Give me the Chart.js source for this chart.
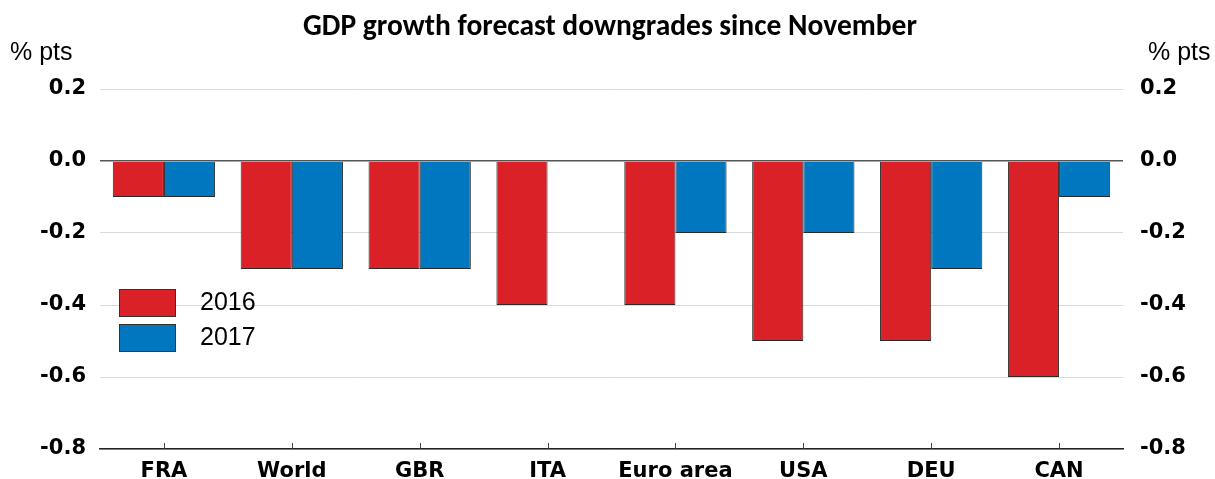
<!DOCTYPE html>
<html>
<head>
<meta charset="utf-8">
<script src="https://cdn.jsdelivr.net/npm/chart.js@4/dist/chart.umd.min.js"></script>
<style>
  html, body { margin: 0; padding: 0; background: #fff; }
  #wrap { width: 1215px; height: 479px; position: relative; }
</style>
</head>
<body>
<div id="wrap"><canvas id="myChart" width="1215" height="479"></canvas></div>
<script>
const categories = ['FRA', 'World', 'GBR', 'ITA', 'Euro area', 'USA', 'DEU', 'CAN'];
const growth2016 = [-0.1, -0.3, -0.3, -0.4, -0.4, -0.5, -0.5, -0.6];
const growth2017 = [-0.1, -0.3, -0.3, 0, -0.2, -0.2, -0.3, -0.1];
const seriesNames = ['2016', '2017'];
const yTicks = [0.2, 0.0, -0.2, -0.4, -0.6, -0.8];

const titleText = 'GDP growth forecast downgrades since November';
const unitText = '% pts';

const tickFont = { family: '"DejaVu Sans", sans-serif', size: 21, weight: 'bold' };

// title, unit labels, legend box, inside tick marks
const overlay = {
    id: 'overlay',
    afterDatasetsDraw(chart) {
        const ctx = chart.ctx;
        const area = chart.chartArea;
        const x = chart.scales.x;
        ctx.save();
        ctx.strokeStyle = '#444';
        ctx.lineWidth = 1;
        categories.forEach((c, i) => {
            const px = Math.round(x.getPixelForValue(i)) + 0.5;
            ctx.beginPath();
            ctx.moveTo(px, area.bottom);
            ctx.lineTo(px, area.bottom - 6);
            ctx.stroke();
        });
        ctx.restore();
    },
    afterDraw(chart) {
        const ctx = chart.ctx;
        ctx.save();
        ctx.fillStyle = '#000';
        ctx.textBaseline = 'alphabetic';
        ctx.textAlign = 'center';
        ctx.font = 'bold 29.5px Carlito, Lato, "Open Sans", sans-serif';
        ctx.fillText(titleText, 610, 35);

        ctx.textBaseline = 'middle';
        ctx.font = '25px "Liberation Sans", Arial, sans-serif';
        ctx.textAlign = 'left';
        ctx.fillText(unitText, 10, 53);
        ctx.fillText(unitText, 1148, 53);

        // legend
        const colors = chart.data.datasets.map(d => d.backgroundColor);
        seriesNames.forEach((name, i) => {
            const by = 289 + i * 35;
            ctx.fillStyle = colors[i];
            ctx.fillRect(119, by, 56, 27);
            ctx.strokeStyle = '#333';
            ctx.lineWidth = 1;
            ctx.strokeRect(119.5, by + 0.5, 56, 27);
            ctx.fillStyle = '#000';
            ctx.fillText(name, 200, by + 14);
        });
        ctx.restore();
    }
};

const ctx = document.getElementById('myChart').getContext('2d');
const myChart = new Chart(ctx, {
    type: 'bar',
    data: {
        labels: categories,
        datasets: [{
            label: seriesNames[0],
            data: growth2016,
            backgroundColor: '#da2128',
            borderColor: '#2b2b2b',
            borderWidth: 1,
            yAxisID: 'y'
        }, {
            label: seriesNames[1],
            data: growth2017,
            backgroundColor: '#0077be',
            borderColor: '#2b2b2b',
            borderWidth: 1,
            yAxisID: 'y'
        }]
    },
    options: {
        responsive: false,
        animation: false,
        maintainAspectRatio: false,
        devicePixelRatio: 1,
        layout: { padding: { top: 89, bottom: 0, left: 0, right: 0 } },
        plugins: {
            legend: { display: false },
            title: { display: false },
            tooltip: { enabled: false }
        },
        datasets: {
            bar: { categoryPercentage: 0.8, barPercentage: 1.0 }
        },
        scales: {
            x: {
                grid: { display: false },
                border: { display: true, color: '#222', width: 1.5 },
                ticks: { color: '#000', font: tickFont, padding: 2, maxRotation: 0, autoSkip: false },
                afterFit(s) { s.height = 30; }
            },
            y: {
                position: 'left',
                min: -0.8,
                max: 0.2,
                afterBuildTicks(s) { s.ticks = yTicks.map(v => ({ value: v })); },
                grid: {
                    drawTicks: false,
                    color: c => Math.abs(c.tick.value) < 1e-9 ? '#555' : '#d9d9d9',
                    lineWidth: c => Math.abs(c.tick.value) < 1e-9 ? 1.5 : 1
                },
                border: { display: false },
                ticks: { color: '#000', font: tickFont, padding: 14, autoSkip: false, callback: v => v.toFixed(1) },
                afterFit(s) { s.width = 100; }
            },
            y2: {
                position: 'right',
                min: -0.8,
                max: 0.2,
                afterBuildTicks(s) { s.ticks = yTicks.map(v => ({ value: v })); },
                grid: { display: false, drawTicks: false },
                border: { display: false },
                ticks: { color: '#000', font: tickFont, padding: 17, autoSkip: false, callback: v => v.toFixed(1) },
                afterFit(s) { s.width = 92; }
            }
        }
    },
    plugins: [overlay]
});
</script>
</body>
</html>
